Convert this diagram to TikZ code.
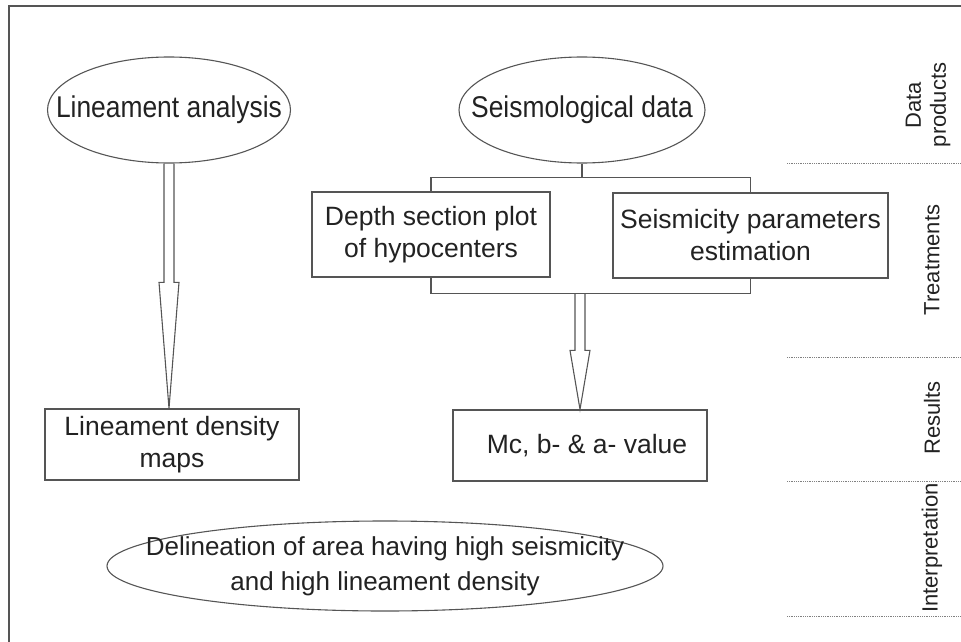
\documentclass[tikz,border=0pt]{standalone}
\usepackage{fontspec}
\setmainfont{Liberation Sans}
\newfontfamily\narrowfont[FakeStretch=0.88]{Liberation Sans}
\usetikzlibrary{shapes.geometric,calc}
\definecolor{linegray}{HTML}{555555}
\definecolor{textgray}{HTML}{222222}

% hollow block arrow: start, tip, head length
\newcommand{\fatarrow}[3]{%
  \draw[fat] let \p1=(#1), \p2=(#2) in
    (\x1-5pt,\y1) -- (\x1-5pt,\y2+#3pt) -- (\x1-10pt,\y2+#3pt) -- (\x1,\y2)
    -- (\x1+10pt,\y2+#3pt) -- (\x1+5pt,\y2+#3pt) -- (\x1+5pt,\y1);}

\begin{document}
\begin{tikzpicture}[x=1pt,y=-1pt,
    every node/.style={text=textgray,font=\fontsize{26.5}{32}\selectfont,align=center},
    every label/.style={text=textgray,align=center},
    oval/.style={ellipse,draw=linegray,line width=1.1pt,inner sep=0pt},
    box/.style={rectangle,draw=linegray,line width=1.3pt,inner sep=0pt},
    fat/.style={draw=linegray,line width=1.1pt,line join=miter},
    link/.style={draw=linegray,line width=1.3pt},
    sep/.style={draw=gray,densely dotted,line width=0.8pt},
    tag/.style={rotate=90,font=\fontsize{22}{25}\selectfont}]
    \useasboundingbox (0,0) rectangle (961,642);
    \draw[linegray,line width=1.8pt] (9,642) -- (9,6) -- (961,6);
    % data products
    \node[oval,minimum width=243,minimum height=106,
      label={[font=\narrowfont\fontsize{30}{34}\selectfont]center:Lineament analysis}] (ell1) at (169,110) {};
    \node[oval,minimum width=246,minimum height=106,
      label={[font=\narrowfont\fontsize{30}{34}\selectfont]center:Seismological data}] (ell2) at (582,110) {};
    % treatments
    \node[box,minimum width=238,minimum height=85] (depth) at (431,234.5) {Depth section plot\\of hypocenters};
    \node[box,minimum width=275,minimum height=85] (param) at (750.5,235.5) {Seismicity parameters\\estimation};
    % results
    \node[box,minimum width=254,minimum height=71] (dens) at (172,444.5) {Lineament density\\maps};
    \node[box,minimum width=254,minimum height=71,
      label={[font=\fontsize{26.5}{32}\selectfont,xshift=7pt]center:Mc, b- \& a- value}] (mc) at (580,445.5) {};
    % interpretation
    \node[oval,minimum width=556,minimum height=90,
      label={[font=\fontsize{26}{35}\selectfont]center:Delineation of area having high seismicity\\and high lineament density}] (deli) at (385,566) {};
    % brackets
    \coordinate (top) at ($(depth.north)+(0,-14)$);
    \coordinate (brk) at ($(depth.south)+(0,16)$);
    \draw[link] (ell2.south) -- (ell2.south |- top);
    \draw[link] (depth.north) -- (top) -| (param.north);
    \draw[link] (depth.south) -- (brk) -| (param.south);
    % arrows
    \fatarrow{ell1.south}{dens.north}{126}
    \fatarrow{mc.north |- brk}{mc.north}{59}
    % stage labels
    \foreach \y in {163,357,481,616} \draw[sep] (787,\y) -- (961,\y);
    \node[tag] (lab1) at (928,105) {Data\\products};
    \node[tag] (lab2) at (932,260) {Treatments};
    \node[tag] (lab3) at (932,418) {Results};
    \node[tag] (lab4) at (932,548) {Interpretation};
\end{tikzpicture}
\end{document}
